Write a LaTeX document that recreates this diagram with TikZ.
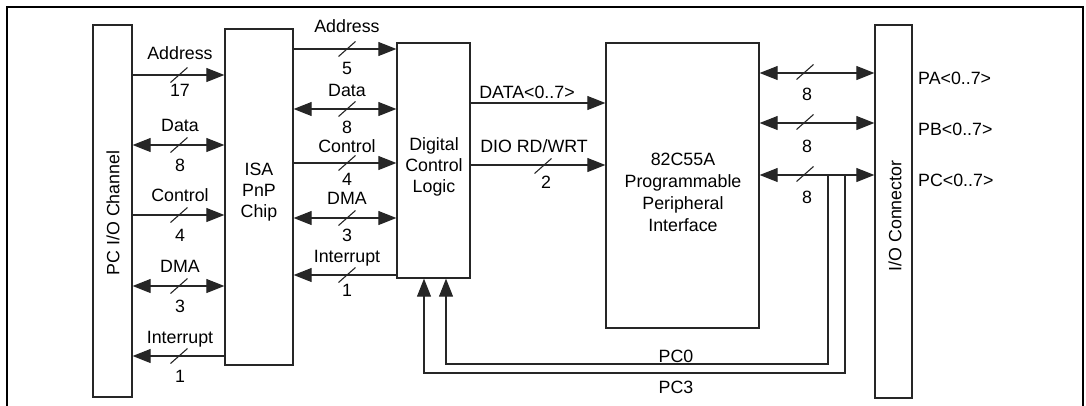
\documentclass[tikz,border=0pt]{standalone}
\usepackage{fontspec}
\setmainfont{Liberation Sans}
\usetikzlibrary{arrows.meta}
\newcommand\busmark[2]{\draw[conn] (#1,#2) ++(-8.5,7.5) -- ++(17,-15);}
\tikzset{
  blk/.style={draw=black!85, line width=1.3pt, rectangle, inner sep=0pt},
  txt/.style={font=\fontsize{17.8pt}{21pt}\selectfont, inner sep=0pt, text=black},
  lbl/.style={txt, anchor=base},
  conn/.style={draw=black!85, line width=1.1pt},
  tip/.style={-{Triangle[length=18pt,width=14pt]}},
  both/.style={{Triangle[length=18pt,width=14pt]}-{Triangle[length=18pt,width=14pt]}},
  tipl/.style={{Triangle[length=18pt,width=14pt]}-},
}
\begin{document}
\begin{tikzpicture}[x=1pt,y=-1pt]
\useasboundingbox (0,0) rectangle (1086,405);
\draw[line width=2pt, black] (6.5,415) -- (6.5,7) -- (1083,7) -- (1083,415);

% blocks
\node[blk, minimum width=39pt, minimum height=372pt] (pc) at (112.5,211) {};
\node[blk, minimum width=68pt, minimum height=336pt] (isa) at (259,197) {};
\node[blk, minimum width=73pt, minimum height=235pt] (dcl) at (433.5,160.5) {};
\node[blk, minimum width=153pt, minimum height=285pt] (ppi) at (682.5,185.5) {};
\node[blk, minimum width=37pt, minimum height=373pt] (ioc) at (893.5,211.5) {};

% block texts
\node[txt, rotate=90] (pct) at (113,213) {PC I/O Channel};
\node[txt, rotate=90] (ioct) at (895,216) {I/O Connector};
\node[txt, align=center, anchor=north] (isat) at (259,163.3) {ISA\\PnP\\Chip};
\node[txt, align=center, anchor=north] (dclt) at (434,137.3) {Digital\\Control\\Logic};
\node[txt, align=center, anchor=north, font=\fontsize{17.8pt}{22pt}\selectfont] (ppit) at (683,153.3) {82C55A\\Programmable\\Peripheral\\Interface};

% row coordinates
\coordinate (r1) at (0,75);
\coordinate (r2) at (0,145);
\coordinate (r3) at (0,215);
\coordinate (r4) at (0,286);
\coordinate (r5) at (0,356);
\coordinate (m1) at (0,49);
\coordinate (m2) at (0,109);
\coordinate (m3) at (0,163);
\coordinate (m4) at (0,218);
\coordinate (m5) at (0,275);
\coordinate (d1) at (0,103);
\coordinate (d2) at (0,165);
\coordinate (p1) at (0,73);
\coordinate (p2) at (0,123);
\coordinate (p3) at (0,175);

% PC channel <-> ISA
\draw[conn, tip] (pc.east |- r1) -- (isa.west |- r1);
\draw[conn, both] (pc.east |- r2) -- (isa.west |- r2);
\draw[conn, tip] (pc.east |- r3) -- (isa.west |- r3);
\draw[conn, both] (pc.east |- r4) -- (isa.west |- r4);
\draw[conn, tipl] (pc.east |- r5) -- (isa.west |- r5);
\busmark{179}{75}\busmark{179}{145}\busmark{179}{215}\busmark{179}{286}\busmark{179}{356}
\node[lbl] (la1) at (180,59) {Address};
\node[lbl] (lb1) at (180,96) {17};
\node[lbl] (la2) at (180,131) {Data};
\node[lbl] (lb2) at (180,171) {8};
\node[lbl] (la3) at (180,201) {Control};
\node[lbl] (lb3) at (180,241) {4};
\node[lbl] (la4) at (180,272) {DMA};
\node[lbl] (lb4) at (180,312) {3};
\node[lbl] (la5) at (180,343) {Interrupt};
\node[lbl] (lb5) at (180,382) {1};

% ISA <-> DCL
\draw[conn, tip] (isa.east |- m1) -- (dcl.west |- m1);
\draw[conn, both] (isa.east |- m2) -- (dcl.west |- m2);
\draw[conn, tip] (isa.east |- m3) -- (dcl.west |- m3);
\draw[conn, both] (isa.east |- m4) -- (dcl.west |- m4);
\draw[conn, tipl] (isa.east |- m5) -- (dcl.west |- m5);
\busmark{347}{49}\busmark{347}{109}\busmark{347}{163}\busmark{347}{218}\busmark{347}{275}
\node[lbl] (ma1) at (347,32) {Address};
\node[lbl] (mb1) at (347,74) {5};
\node[lbl] (ma2) at (347,96) {Data};
\node[lbl] (mb2) at (347,133) {8};
\node[lbl] (ma3) at (347,152) {Control};
\node[lbl] (mb3) at (347,185) {4};
\node[lbl] (ma4) at (347,204) {DMA};
\node[lbl] (mb4) at (347,241) {3};
\node[lbl] (ma5) at (347,262) {Interrupt};
\node[lbl] (mb5) at (347,296) {1};

% DCL -> PPI
\draw[conn, tip] (dcl.east |- d1) -- (ppi.west |- d1);
\draw[conn, tip] (dcl.east |- d2) -- (ppi.west |- d2);
\busmark{543}{166}
\node[lbl] (da1) at (527,98) {DATA<0..7>};
\node[lbl] (da2) at (534,152) {DIO RD/WRT};
\node[lbl] (db2) at (546,188) {2};

% PPI <-> I/O connector
\draw[conn, both] (ppi.east |- p1) -- (ioc.west |- p1);
\draw[conn, both] (ppi.east |- p2) -- (ioc.west |- p2);
\draw[conn, both] (ppi.east |- p3) -- (ioc.west |- p3);
\busmark{805}{72}\busmark{805}{122}\busmark{805}{174}
\node[lbl] (pb1) at (807,100) {8};
\node[lbl] (pb2) at (807,152) {8};
\node[lbl] (pb3) at (807,203) {8};
\node[lbl, anchor=base west] (pa1) at (918,84) {PA<0..7>};
\node[lbl, anchor=base west] (pa2) at (918,135) {PB<0..7>};
\node[lbl, anchor=base west] (pa3) at (918,186) {PC<0..7>};

% PC0 / PC3 feedback
\coordinate (j0) at (828,175);
\coordinate (j3) at (845,175);
\coordinate (c0) at (446,364);
\coordinate (c3) at (424,373);
\draw[conn, tip] (j0) |- (c0) -- (dcl.south -| c0);
\draw[conn, tip] (j3) |- (c3) -- (dcl.south -| c3);
\node[lbl] (pc0) at (676,362) {PC0};
\node[lbl] (pc3) at (676,393) {PC3};
\end{tikzpicture}
\end{document}
